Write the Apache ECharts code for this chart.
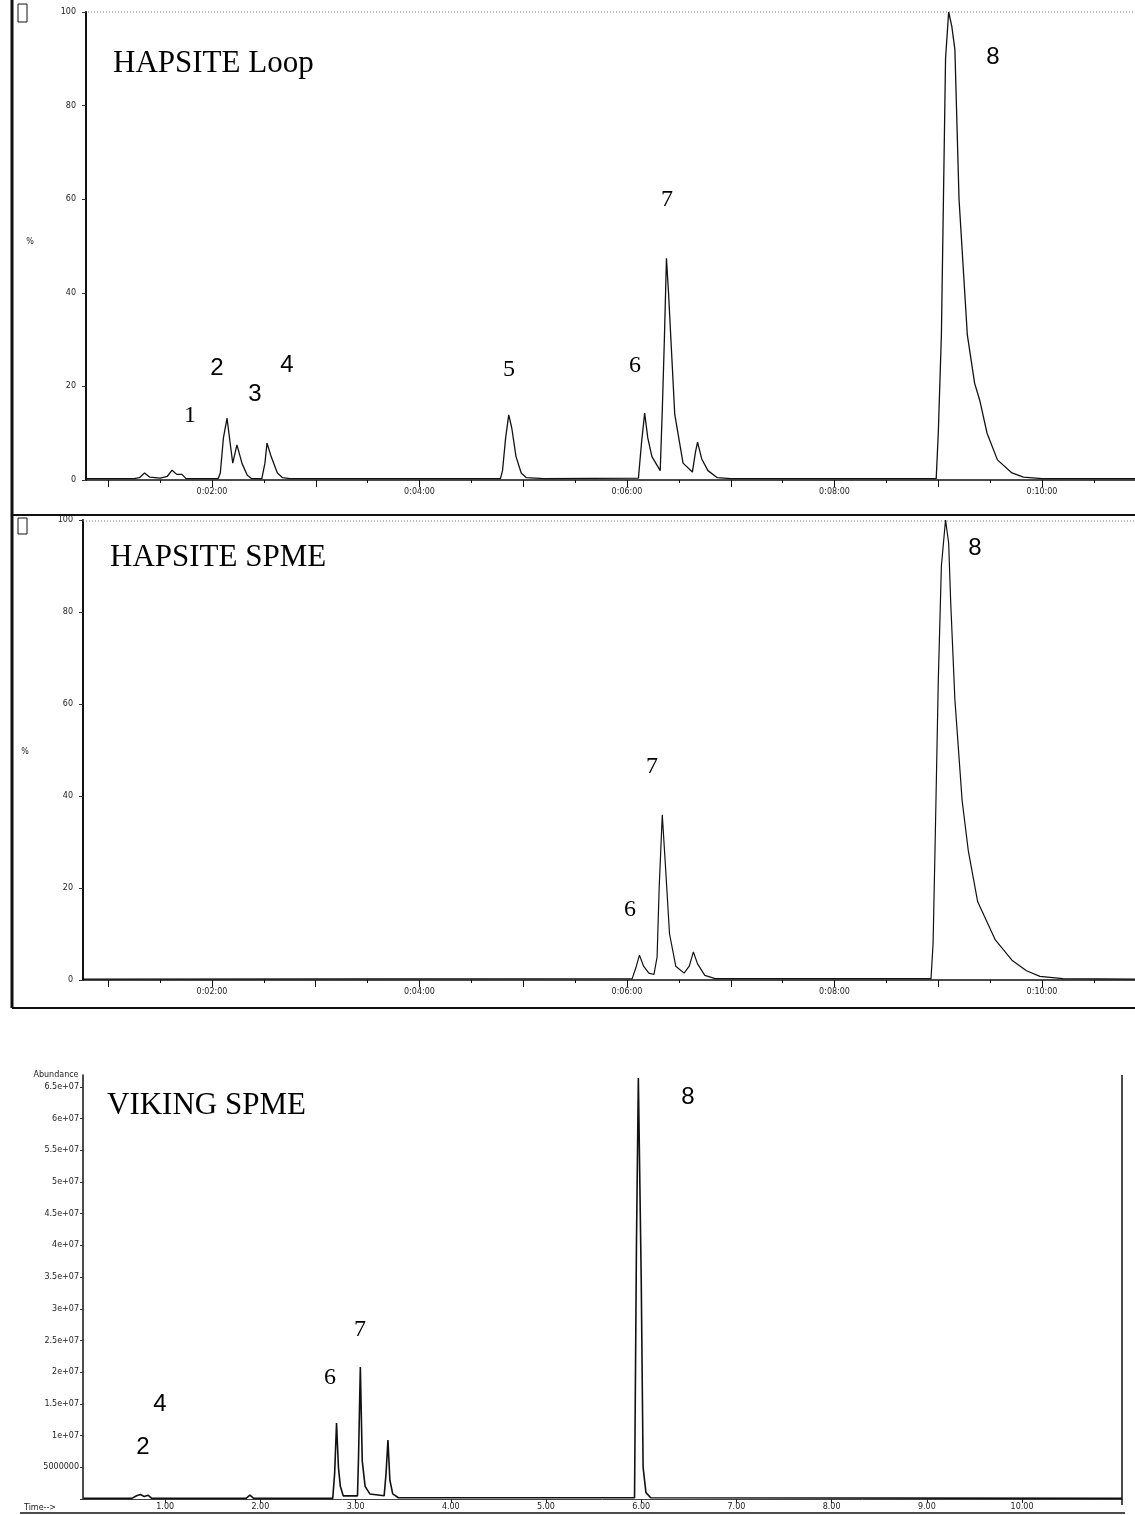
<!DOCTYPE html>
<html>
<head>
<meta charset="utf-8">
<title>HAPSITE / VIKING chromatograms</title>
<script src="https://cdn.jsdelivr.net/npm/echarts@6/dist/echarts.min.js"></script>
<style>
  html, body { margin: 0; padding: 0; background: #fff; }
  #chart { width: 1135px; height: 1515px; }
</style>
</head>
<body>
<div id="chart"></div>
<script>
// HAPSITE Loop trace (time in min, % of max)
const loopTime = [0.79, 1.25, 1.30, 1.35, 1.40, 1.50, 1.57, 1.615, 1.66, 1.71, 1.75, 2.06, 2.08, 2.11, 2.145, 2.18, 2.20, 2.24, 2.29, 2.34, 2.38,
  2.48, 2.50, 2.51, 2.53, 2.57, 2.63, 2.68, 2.75, 4.78, 4.80, 4.83, 4.86, 4.89, 4.93, 4.98, 5.03, 5.20,
  6.11, 6.14, 6.17, 6.20, 6.24, 6.32, 6.34, 6.36, 6.38, 6.40, 6.41, 6.46, 6.54, 6.63, 6.66, 6.68, 6.72, 6.78, 6.87, 7.00,
  8.98, 9.00, 9.03, 9.07, 9.10, 9.13, 9.16, 9.20, 9.28, 9.35, 9.40, 9.47, 9.57, 9.71, 9.82, 10.0, 10.9];
const loopPct = [0.3, 0.3, 0.5, 1.5, 0.6, 0.4, 0.8, 2.1, 1.2, 1.2, 0.3, 0.3, 1.5, 9, 13.2, 7, 3.6, 7.5, 3.5, 1, 0.3,
  0.3, 2.5, 3.6, 7.9, 5, 1.5, 0.5, 0.3, 0.3, 2, 9, 13.9, 11, 5, 1.5, 0.5, 0.3,
  0.4, 8, 14.3, 9, 5, 2, 15, 30, 47.4, 40, 35.7, 14, 3.6, 1.7, 6, 8.1, 4.5, 2, 0.5, 0.3,
  0.3, 10, 31, 90, 100, 97, 92, 60, 31, 20.7, 17, 10, 4.3, 1.5, 0.6, 0.3, 0.3];

// HAPSITE SPME trace
const spmeTime = [0.76, 6.05, 6.09, 6.12, 6.16, 6.21, 6.26, 6.29, 6.31, 6.34, 6.37, 6.41, 6.47, 6.55, 6.60, 6.64, 6.68, 6.75, 6.85,
  8.93, 8.95, 8.97, 9.00, 9.03, 9.07, 9.10, 9.12, 9.16, 9.23, 9.29, 9.38, 9.55, 9.71, 9.85, 9.98, 10.2, 10.9];
const spmePct = [0.2, 0.3, 3, 5.4, 3, 1.5, 1.2, 5, 20, 35.9, 25, 10, 3, 1.5, 3, 6.1, 3.5, 1, 0.3,
  0.3, 8, 30, 65, 90, 100, 95, 82, 61, 39, 28, 17, 8.7, 4.3, 2, 0.8, 0.3, 0.2];

// VIKING SPME trace (abundance)
const vikingTime = [0.14, 0.65, 0.70, 0.74, 0.78, 0.82, 0.86, 1.85, 1.89, 1.93,
  2.76, 2.78, 2.80, 2.82, 2.84, 2.87, 3.02, 3.03, 3.05, 3.07, 3.10, 3.15, 3.30, 3.32, 3.34, 3.36, 3.39, 3.45,
  5.93, 5.95, 5.97, 6.00, 6.02, 6.05, 6.10, 11.05];
const vikingAbund = [1e5, 1e5, 5e5, 7e5, 4e5, 6e5, 1e5, 1e5, 6e5, 1e5,
  1e5, 4e6, 12.0e6, 5e6, 2e6, 5e5, 5e5, 6e6, 20.8e6, 6e6, 2e6, 8e5, 5e5, 4e6, 9.3e6, 3e6, 8e5, 2e5,
  2e5, 40e6, 66.4e6, 35e6, 5e6, 1e6, 2e5, 1e5];

// ticks and labels
const hapsiteMinuteTicks = [1, 2, 3, 4, 5, 6, 7, 8, 9, 10];
const hapsiteHalfTicks = [1, 1.5, 2, 2.5, 3, 3.5, 4, 4.5, 5, 5.5, 6, 6.5, 7, 7.5, 8, 8.5, 9, 9.5, 10, 10.5];
const hapsiteLabelValues = [2, 4, 6, 8, 10];
const hapsiteLabelText = ['0:02:00', '0:04:00', '0:06:00', '0:08:00', '0:10:00'];
const vikingXTicks = [1, 2, 3, 4, 5, 6, 7, 8, 9, 10];
const vikingYLabels = ['', '5000000', '1e+07', '1.5e+07', '2e+07', '2.5e+07', '3e+07', '3.5e+07',
  '4e+07', '4.5e+07', '5e+07', '5.5e+07', '6e+07', '6.5e+07'];

const zip = (xs, ys) => xs.map((x, i) => [x, ys[i]]);

const chart = echarts.init(document.getElementById('chart'), null, { renderer: 'canvas' });

const tickFont = { fontSize: 8, color: '#222', fontFamily: 'DejaVu Sans' };

function hapsiteX(grid, min) {
  return [{
    type: 'value', gridIndex: grid, position: 'bottom', min: min, max: 10.896,
    axisLine: { show: true, onZero: false, lineStyle: { color: '#111', width: 1.5 } },
    axisTick: { show: true, customValues: hapsiteMinuteTicks, length: 7, lineStyle: { color: '#111', width: 1 } },
    axisLabel: Object.assign({
      customValues: hapsiteLabelValues, margin: 8,
      formatter: v => hapsiteLabelText[hapsiteLabelValues.indexOf(Math.round(v))] || ''
    }, tickFont),
    splitLine: { show: false }
  }, {
    type: 'value', gridIndex: grid, position: 'bottom', min: min, max: 10.896,
    axisLine: { show: false, onZero: false },
    axisTick: { show: true, customValues: hapsiteHalfTicks, length: 3, lineStyle: { color: '#111', width: 1 } },
    axisLabel: { show: false },
    splitLine: { show: false }
  }];
}

function hapsiteY(grid) {
  return {
    type: 'value', gridIndex: grid, min: 0, max: 100, interval: 20,
    axisLine: { show: true, lineStyle: { color: '#111', width: 2 } },
    axisTick: { show: true, length: 4, lineStyle: { color: '#333' } },
    axisLabel: Object.assign({ margin: 10 }, tickFont),
    splitLine: { show: false }
  };
}

function num(text, x, y, family) {
  return {
    type: 'text', z: 50,
    style: { text: text, x: x, y: y, fill: '#000', textAlign: 'center', textVerticalAlign: 'middle',
      font: '24px "' + (family || 'Liberation Serif') + '"' }
  };
}
function title(text, x, y) {
  return {
    type: 'text', z: 50,
    style: { text: text, x: x, y: y, fill: '#000', textAlign: 'left', textVerticalAlign: 'middle',
      font: '31px "Liberation Serif"' }
  };
}
function line(x1, y1, x2, y2, w, dash) {
  return {
    type: 'line', z: 40, silent: true,
    shape: { x1: x1, y1: y1, x2: x2, y2: y2 },
    style: { stroke: dash ? '#777' : '#111', lineWidth: w, lineDash: dash || null }
  };
}
function small(text, x, y, align) {
  return {
    type: 'text', z: 50,
    style: { text: text, x: x, y: y, fill: '#222', textAlign: align || 'center', textVerticalAlign: 'middle',
      font: '8px "DejaVu Sans"' }
  };
}

const option = {
  backgroundColor: '#fff',
  animation: false,
  grid: [
    { left: 86, top: 12, width: 1049, height: 468 },
    { left: 83, top: 520, width: 1052, height: 460 },
    { left: 83, top: 1075, width: 1039, height: 424 }
  ],
  xAxis: [
    ...hapsiteX(0, 0.7855),
    ...hapsiteX(1, 0.757),
    {
      type: 'value', gridIndex: 2, position: 'bottom', min: 0.137, max: 11.05,
      axisLine: { show: true, onZero: false, lineStyle: { color: '#444', width: 1 } },
      axisTick: { show: true, customValues: vikingXTicks, length: 4, lineStyle: { color: '#222' } },
      axisLabel: Object.assign({ customValues: vikingXTicks, margin: 4, formatter: v => v.toFixed(2) }, tickFont),
      splitLine: { show: false }
    }
  ],
  yAxis: [
    hapsiteY(0),
    hapsiteY(1),
    {
      type: 'value', gridIndex: 2, min: 0, max: 66.88e6, interval: 5e6,
      axisLine: { show: true, lineStyle: { color: '#111', width: 1.5 } },
      axisTick: { show: true, length: 3, lineStyle: { color: '#333' } },
      axisLabel: Object.assign({
        margin: 4, showMaxLabel: false,
        formatter: v => {
          const k = v / 5e6;
          return Math.abs(k - Math.round(k)) < 1e-6 ? (vikingYLabels[Math.round(k)] || '') : '';
        }
      }, tickFont),
      splitLine: { show: false }
    }
  ],
  series: [
    { type: 'line', xAxisIndex: 0, yAxisIndex: 0, data: zip(loopTime, loopPct), showSymbol: false,
      lineStyle: { color: '#111', width: 1.3 } },
    { type: 'line', xAxisIndex: 2, yAxisIndex: 1, data: zip(spmeTime, spmePct), showSymbol: false,
      lineStyle: { color: '#111', width: 1.2 } },
    { type: 'line', xAxisIndex: 4, yAxisIndex: 2, data: zip(vikingTime, vikingAbund), showSymbol: false,
      lineStyle: { color: '#111', width: 1.6 } }
  ],
  graphic: [
    // frame around the two HAPSITE panels
    line(12, 0, 12, 1008, 3),
    line(12, 515, 1135, 515, 2),
    line(12, 1008, 1135, 1008, 2),
    line(88, 12, 1135, 12, 1, [1, 2]),
    line(83, 521, 1135, 521, 1, [1, 2]),
    { type: 'rect', z: 40, shape: { x: 18, y: 4, width: 9, height: 18 }, style: { fill: 'none', stroke: '#111', lineWidth: 1 } },
    { type: 'rect', z: 40, shape: { x: 18, y: 518, width: 9, height: 16 }, style: { fill: 'none', stroke: '#111', lineWidth: 1 } },
    small('%', 30, 242),
    small('%', 25, 752),
    // VIKING frame
    line(1122, 1075, 1122, 1505, 1.5),
    line(20, 1513, 1125, 1513, 1.5),
    small('Abundance', 56, 1075),
    small('Time-->', 24, 1508, 'left'),
    // titles
    title('HAPSITE Loop', 113, 64),
    title('HAPSITE SPME', 110, 558),
    title('VIKING SPME', 107, 1106),
    // peak numbers
    num('1', 190, 416),
    num('2', 217, 368, 'Liberation Sans'),
    num('3', 255, 394, 'Liberation Sans'),
    num('4', 287, 365, 'Liberation Sans'),
    num('5', 509, 370),
    num('6', 635, 366),
    num('7', 667, 200),
    num('8', 993, 57, 'Liberation Sans'),
    num('6', 630, 910),
    num('7', 652, 767),
    num('8', 975, 548, 'Liberation Sans'),
    num('2', 143, 1447, 'Liberation Sans'),
    num('4', 160, 1404, 'Liberation Sans'),
    num('6', 330, 1378),
    num('7', 360, 1330),
    num('8', 688, 1097, 'Liberation Sans')
  ]
};

chart.setOption(option);
</script>
</body>
</html>
